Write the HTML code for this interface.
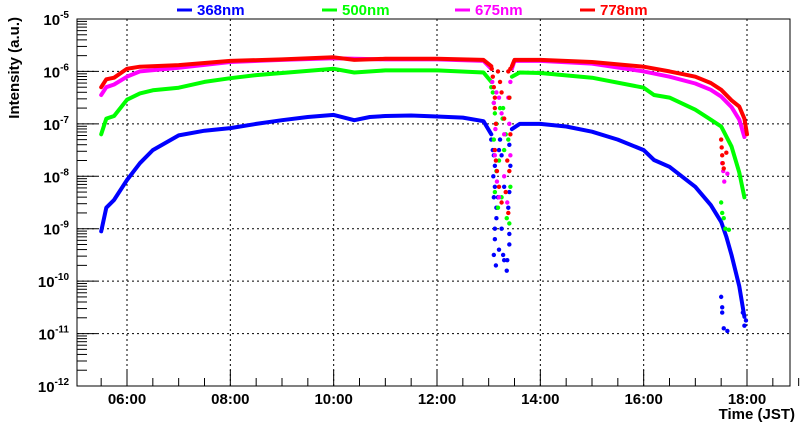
<!DOCTYPE html>
<html><head><meta charset="utf-8"><style>
body{margin:0;background:#fff}
svg{display:block;font-family:"Liberation Sans",sans-serif;font-weight:bold}
</style></head><body>
<svg id="c" width="800" height="427" viewBox="0 0 800 427"></svg>
<script>
const seriesNames=["368nm","500nm","675nm","778nm"];
const seriesColors=["#0000ff","#00ff00","#ff00ff","#ff0000"];
const xTickLabels=["06:00","08:00","10:00","12:00","14:00","16:00","18:00"];
const xTickHours=[6,8,10,12,14,16,18];
const yTickExps=[-12,-11,-10,-9,-8,-7,-6,-5];
const blueA=[[5.5,-9.05],[5.6,-8.6],[5.75,-8.45],[6,-8.07],[6.25,-7.75],[6.5,-7.5],[7,-7.22],[7.5,-7.13],[8,-7.08],[8.5,-7.0],[9,-6.93],[9.5,-6.87],[10,-6.83],[10.4,-6.93],[10.7,-6.87],[11,-6.85],[11.5,-6.84],[12,-6.86],[12.5,-6.88],[12.9,-6.95],[13.05,-7.2]];
const blueB=[[13.45,-7.1],[13.6,-7.0],[14,-7.0],[14.5,-7.05],[15,-7.15],[15.5,-7.3],[16,-7.5],[16.2,-7.69],[16.5,-7.82],[17,-8.2],[17.3,-8.55],[17.5,-8.87],[17.6,-9.15],[17.7,-9.5],[17.85,-10.1],[17.95,-10.68]];
const greenA=[[5.5,-7.2],[5.6,-6.9],[5.75,-6.85],[6,-6.54],[6.25,-6.42],[6.5,-6.36],[7,-6.31],[7.5,-6.2],[8,-6.13],[8.5,-6.07],[9,-6.03],[10,-5.95],[10.4,-6.02],[11,-5.98],[12,-5.98],[12.9,-6.02],[13.05,-6.2]];
const greenB=[[13.45,-6.1],[13.6,-6.02],[14,-6.03],[15,-6.12],[16,-6.31],[16.2,-6.45],[16.5,-6.5],[17,-6.73],[17.3,-6.92],[17.5,-7.05],[17.7,-7.43],[17.85,-7.93],[17.95,-8.4]];
const magA=[[5.5,-6.45],[5.6,-6.3],[5.75,-6.25],[6,-6.1],[6.25,-6.0],[7,-5.93],[8,-5.82],[9,-5.78],[10,-5.75],[11,-5.77],[12,-5.77],[12.9,-5.8],[13.05,-5.95]];
const magB=[[13.45,-5.95],[13.5,-5.8],[14,-5.8],[15,-5.85],[16,-6.0],[16.5,-6.1],[17,-6.23],[17.3,-6.35],[17.5,-6.48],[17.7,-6.68],[17.85,-6.92],[17.95,-7.25]];
const redA=[[5.5,-6.3],[5.6,-6.15],[5.75,-6.12],[6,-5.95],[6.25,-5.91],[7,-5.88],[8,-5.8],[9,-5.77],[10,-5.73],[10.4,-5.78],[11,-5.76],[12,-5.76],[12.9,-5.78],[13.05,-5.9]];
const redB=[[13.45,-5.9],[13.5,-5.78],[14,-5.78],[15,-5.82],[16,-5.91],[16.5,-6.0],[17,-6.1],[17.3,-6.22],[17.5,-6.35],[17.7,-6.55],[17.85,-6.67],[17.95,-6.9],[18.0,-7.2]];
const blueS=[[13.05,-7.3],[13.08,-7.5],[13.1,-7.6],[13.12,-7.8],[13.09,-8.0],[13.12,-8.2],[13.1,-8.4],[13.15,-8.6],[13.15,-8.8],[13.12,-9.0],[13.12,-9.2],[13.1,-9.5],[13.14,-9.7],[13.2,-9.4],[13.22,-7.3],[13.25,-7.6],[13.25,-9.0],[13.28,-9.5],[13.3,-9.6],[13.35,-9.8],[13.36,-9.6],[13.4,-9.3],[13.4,-9.1],[13.38,-8.6],[13.4,-8.3],[13.42,-7.8],[13.4,-7.4],[13.2,-7.5],[13.3,-8.2],[13.18,-8.4],[17.5,-10.3],[17.52,-10.5],[17.52,-10.6],[17.55,-10.9],[17.62,-10.95],[17.92,-10.6],[17.95,-10.85],[17.98,-10.75]];
const greenS=[[13.05,-6.3],[13.08,-6.4],[13.1,-6.6],[13.12,-6.8],[13.15,-7.0],[13.1,-7.3],[13.15,-7.9],[13.12,-8.3],[13.18,-8.6],[13.22,-6.7],[13.25,-8.4],[13.27,-6.9],[13.3,-7.5],[13.33,-7.2],[13.35,-8.8],[13.4,-8.9],[13.42,-8.2],[13.38,-7.3],[13.28,-6.7],[13.4,-6.5],[13.2,-7.7],[17.5,-8.5],[17.52,-8.7],[17.55,-8.8],[17.58,-9.0],[17.65,-9.02]];
const magS=[[13.07,-6.2],[13.1,-6.6],[13.13,-7.1],[13.12,-7.6],[13.16,-8.1],[13.2,-8.4],[13.2,-6.5],[13.25,-6.8],[13.3,-8.0],[13.3,-7.2],[13.36,-8.5],[13.42,-7.6],[13.4,-7.0],[13.38,-6.5],[13.42,-6.2],[13.15,-6.4],[17.52,-7.75],[17.54,-7.9],[17.56,-8.1],[17.62,-7.95]];
const redS=[[13.06,-5.95],[13.08,-6.1],[13.1,-6.3],[13.12,-6.5],[13.12,-6.7],[13.14,-7.0],[13.12,-7.5],[13.14,-7.7],[13.16,-7.9],[13.2,-8.2],[13.25,-8.5],[13.22,-6.2],[13.25,-6.4],[13.3,-6.9],[13.33,-8.3],[13.36,-7.7],[13.38,-8.7],[13.4,-7.9],[13.42,-7.2],[13.4,-6.5],[13.38,-6.0],[13.42,-5.95],[13.18,-6.0],[17.5,-7.3],[17.51,-7.45],[17.52,-7.6],[17.53,-7.75],[17.55,-7.85],[17.6,-7.55]];

const L=77,R=790,T=19,B=386;
const NS="http://www.w3.org/2000/svg";
const svg=document.getElementById('c');
const X=h=>127+(h-6)*(747-127)/12;
const Y=v=>T+(-5-v)*(B-T)/7;
function mk(tag,attrs,parent){const e=document.createElementNS(NS,tag);for(const k in attrs)e.setAttribute(k,attrs[k]);(parent||svg).appendChild(e);return e;}
const grid=mk('g',{});


xTickHours.forEach(h=>mk('line',{x1:X(h),x2:X(h),y1:T,y2:B,stroke:'#000','stroke-width':1,'stroke-dasharray':'2,3'},grid));
yTickExps.forEach(e=>mk('line',{x1:L,x2:R,y1:Y(e),y2:Y(e),stroke:'#000','stroke-width':1,'stroke-dasharray':'2,3'},grid));
const ax=mk('g',{stroke:'#000','stroke-width':1});


for(let e=-12;e<-5;e++){for(let m=1;m<10;m++){const y=Y(e+Math.log10(m));mk('line',{x1:L,x2:L+(m==1?20:10),y1:y,y2:y},ax);}}
for(let h=5.5;h<=19;h+=0.5){const x=X(h);mk('line',{x1:x,x2:x,y1:B,y2:B-(Number.isInteger(h)&&h%2==0?16:8)},ax);}
mk('rect',{x:L,y:T,width:R-L,height:B-T,fill:'none',stroke:'#000','stroke-width':1},ax);
yTickExps.forEach(e=>{const t=mk('text',{x:L-8,y:Y(e)+6,'text-anchor':'end','font-size':15});


t.innerHTML='10<tspan dy="-7" font-size="10">'+e+'</tspan>';});
xTickLabels.forEach((s,i)=>{const t=mk('text',{x:X(xTickHours[i]),y:404,'text-anchor':'middle','font-size':15});


t.textContent=s;});
const xt=mk('text',{x:795,y:419,'text-anchor':'end','font-size':15});


xt.textContent='Time (JST)';
const yt=mk('text',{x:0,y:0,'text-anchor':'end','font-size':15,transform:'translate(19,17) rotate(-90)'});


yt.textContent='Intensity (a.u.)';
const lines=[[blueA,blueB,blueS],[greenA,greenB,greenS],[magA,magB,magS],[redA,redB,redS]];
lines.forEach((sd,i)=>{const g=mk('g',{});


[sd[0],sd[1]].forEach(seg=>{const p=mk('polyline',{points:seg.map(d=>X(d[0]).toFixed(1)+','+Y(d[1]).toFixed(1)).join(' '),fill:'none',stroke:seriesColors[i],'stroke-width':4,'stroke-linejoin':'round','stroke-linecap':'round'},g);

});
sd[2].forEach(d=>{const c=mk('circle',{cx:X(d[0]),cy:Y(d[1]),r:2.2,fill:seriesColors[i]},g);

});
const lx=[177,322,455,580][i];
const lg=mk('g',{});


mk('line',{x1:lx,x2:lx+15,y1:10,y2:10,stroke:seriesColors[i],'stroke-width':3},lg);
const lt=mk('text',{x:lx+20,y:15,'font-size':15,fill:seriesColors[i]},lg);
lt.textContent=seriesNames[i];
});
</script>
</body></html>
